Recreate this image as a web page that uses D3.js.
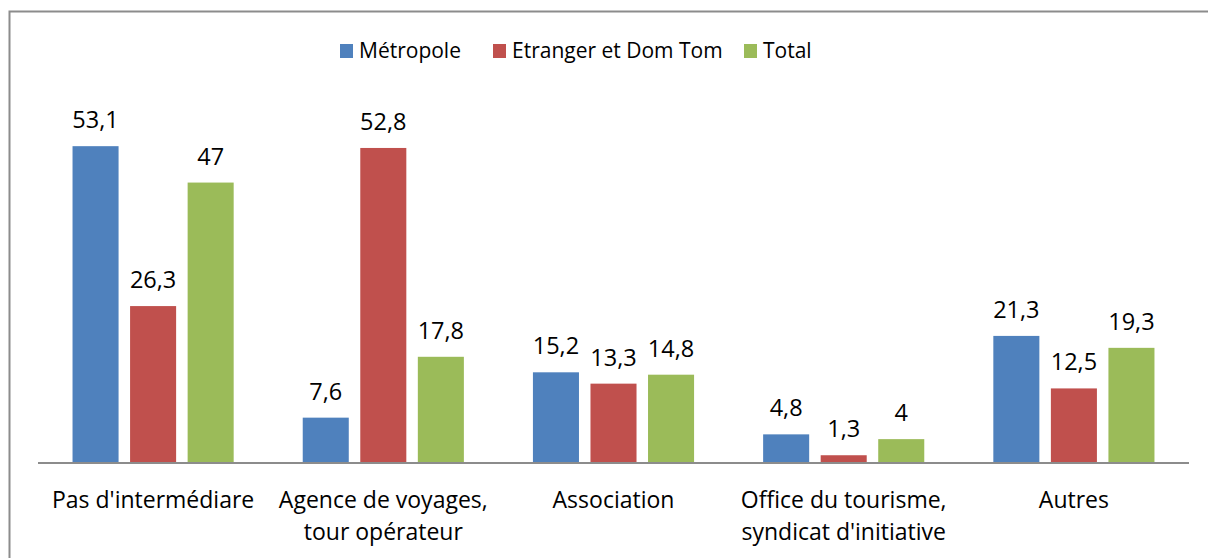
<!DOCTYPE html>
<html>
<head>
<meta charset="utf-8">
<script src="https://cdnjs.cloudflare.com/ajax/libs/d3/7.8.5/d3.min.js"></script>
<style>
  body { margin: 0; background: #fff; }
  text { font-family: "Open Sans", sans-serif; fill: #000; }
</style>
</head>
<body>
<div id="chart"></div>
<script>
// data
var categories = [
  "Pas d'intermédiare",
  "Agence de voyages,\ntour opérateur",
  "Association",
  "Office du tourisme,\nsyndicat d'initiative",
  "Autres"
];
var seriesNames = ["Métropole", "Etranger et Dom Tom", "Total"];
var metropole = [53.1, 7.6, 15.2, 4.8, 21.3];
var etranger = [26.3, 52.8, 13.3, 1.3, 12.5];
var total = [47, 17.8, 14.8, 4, 19.3];
var colors = ["#4F81BD", "#C0504D", "#9BBB59"];

var width = 1208, height = 558;
var seriesValues = [metropole, etranger, total];

var svg = d3.select("#chart").append("svg")
    .attr("width", width)
    .attr("height", height);

// outer frame (right and bottom edges fall outside the picture)
svg.append("rect")
    .attr("x", 9.5).attr("y", 11.5)
    .attr("width", 1220).attr("height", 600)
    .attr("fill", "none")
    .attr("stroke", "#8c8c8c")
    .attr("stroke-width", 2);

var x0 = d3.scaleBand().domain(d3.range(categories.length)).range([38, 1189]);
var x1 = d3.scaleBand().domain(d3.range(seriesNames.length))
    .range([0, x0.bandwidth()])
    .paddingInner(0.2).paddingOuter(0.6);
var y = d3.scaleLinear().domain([0, 60]).range([463, 105]);

var groups = svg.selectAll(".group")
  .data(categories).enter().append("g")
    .attr("class", "group")
    .attr("transform", function(d, i) { return "translate(" + x0(i) + ",0)"; });

groups.selectAll("rect")
  .data(function(d, i) { return seriesValues.map(function(s, j) { return {s: j, v: s[i]}; }); })
  .enter().append("rect")
    .attr("x", function(d) { return x1(d.s); })
    .attr("y", function(d) { return y(d.v); })
    .attr("width", x1.bandwidth())
    .attr("height", function(d) { return y(0) - y(d.v); })
    .attr("fill", function(d) { return colors[d.s]; });

groups.selectAll(".val")
  .data(function(d, i) { return seriesValues.map(function(s, j) { return {s: j, v: s[i]}; }); })
  .enter().append("text")
    .attr("class", "val")
    .attr("x", function(d) { return x1(d.s) + x1.bandwidth() / 2; })
    .attr("y", function(d) { return y(d.v) - 18; })
    .attr("text-anchor", "middle")
    .style("font-size", "23.5px")
    .text(function(d) { return String(d.v).replace(".", ","); });

// baseline
svg.append("line")
    .attr("x1", 38).attr("x2", 1189)
    .attr("y1", y(0)).attr("y2", y(0))
    .attr("stroke", "#8c8c8c")
    .attr("stroke-width", 2);

// category labels
var catLabels = svg.selectAll(".cat")
  .data(categories).enter().append("text")
    .attr("class", "cat")
    .attr("text-anchor", "middle")
    .style("font-size", "23px")
    .attr("transform", function(d, i) { return "translate(" + (x0(i) + x0.bandwidth() / 2) + ",508)"; });
catLabels.selectAll("tspan")
  .data(function(d) { return d.split("\n"); })
  .enter().append("tspan")
    .attr("x", 0)
    .attr("y", function(d, i) { return i * 32; })
    .text(function(d) { return d; });

// legend
var legendX = [340, 493, 744];
var legend = svg.selectAll(".legend")
  .data(seriesNames).enter().append("g")
    .attr("class", "legend")
    .attr("transform", function(d, i) { return "translate(" + legendX[i] + ",44)"; });
legend.append("rect")
    .attr("width", 13).attr("height", 14)
    .attr("fill", function(d, i) { return colors[i]; });
legend.append("text")
    .attr("x", 19).attr("y", 14)
    .style("font-size", "21px")
    .text(function(d) { return d; });
</script>
</body>
</html>
